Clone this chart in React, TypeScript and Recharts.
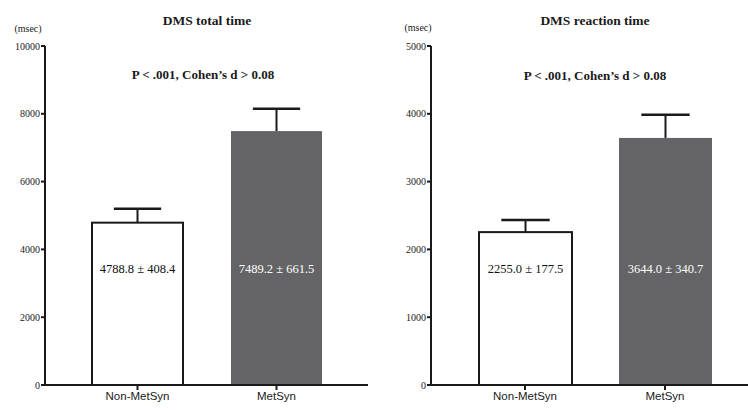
import React from "react";
import { BarChart, Bar, XAxis, YAxis } from "recharts";

const categories = ["Non-MetSyn", "MetSyn"];
const totalMeans = [4788.8, 7489.2];
const totalSds = [408.4, 661.5];
const reactionMeans = [2255.0, 3644.0];
const reactionSds = [177.5, 340.7];
const totalTicks = [0, 2000, 4000, 6000, 8000, 10000];
const reactionTicks = [0, 1000, 2000, 3000, 4000, 5000];
const barColors = ["#ffffff", "#646466"];
const labelColors = ["#111111", "#ffffff"];

const build = (means: number[], sds: number[]) =>
  categories.map((name, i) => ({
    name,
    mean: means[i],
    sd: sds[i],
    fill: barColors[i],
    labelColor: labelColors[i],
  }));

const totalData = build(totalMeans, totalSds);
const reactionData = build(reactionMeans, reactionSds);

const SERIF = "'Liberation Serif', 'Times New Roman', serif";
const SANS = "'Liberation Sans', Arial, sans-serif";
const INK = "#1a1a1a";

// bar + upward error whisker + value text
const BarWithError = (props: any) => {
  const { x, y, width, height, payload } = props;
  const perUnit = height / payload.mean;
  const errTop = y - payload.sd * perUnit;
  const cx = x + width / 2;
  const capHalf = width * 0.26;
  const isWhite = payload.fill === "#ffffff";
  return (
    <g>
      <rect
        x={x}
        y={y}
        width={width}
        height={height}
        fill={payload.fill}
        stroke={isWhite ? INK : "none"}
        strokeWidth={2}
      />
      <line x1={cx} y1={y} x2={cx} y2={errTop} stroke={INK} strokeWidth={2} />
      <line x1={cx - capHalf} y1={errTop} x2={cx + capHalf} y2={errTop} stroke={INK} strokeWidth={2.5} />
      <text
        x={cx}
        y={y + height - 115}
        textAnchor="middle"
        dominantBaseline="middle"
        fontFamily={SERIF}
        fontSize={12.5}
        fill={payload.labelColor}
      >
        {`${payload.mean.toFixed(1)} ± ${payload.sd.toFixed(1)}`}
      </text>
    </g>
  );
};

type PanelProps = {
  data: any[];
  ticks: number[];
  yWidth: number;
  padding: { left: number; right: number };
  barSize: number;
  marginRight: number;
};

const Panel = ({ data, ticks, yWidth, padding, barSize, marginRight }: PanelProps) => (
  <BarChart
    width={374}
    height={410}
    data={data}
    margin={{ top: 46, right: marginRight, bottom: 5, left: 0 }}
  >
    <XAxis
      dataKey="name"
      height={20}
      padding={padding}
      axisLine={{ stroke: INK, strokeWidth: 2 }}
      tickLine={{ stroke: INK, strokeWidth: 2 }}
      tickSize={5}
      tick={{ fontFamily: SANS, fontSize: 11.5, fill: INK }}
    />
    <YAxis
      width={yWidth}
      domain={[0, ticks[ticks.length - 1]]}
      ticks={ticks}
      interval={0}
      axisLine={{ stroke: INK, strokeWidth: 2 }}
      tickLine={{ stroke: INK, strokeWidth: 2 }}
      tickSize={4}
      tickMargin={1}
      tick={{ fontFamily: SERIF, fontSize: 10, fill: INK }}
    />
    <Bar dataKey="mean" barSize={barSize} shape={BarWithError} isAnimationActive={false} />
  </BarChart>
);

const Label = ({ cx, cy, size, bold, children }: any) => (
  <div
    style={{
      position: "absolute",
      left: cx - 150,
      top: cy - 10,
      width: 300,
      height: 20,
      lineHeight: "20px",
      textAlign: "center",
      fontFamily: SERIF,
      fontSize: size,
      fontWeight: bold ? "bold" : "normal",
      color: INK,
      whiteSpace: "nowrap",
    }}
  >
    {children}
  </div>
);

export default function App() {
  return (
    <div style={{ position: "absolute", left: 0, top: 0, width: 748, height: 410, background: "#fff" }}>
      <div style={{ position: "absolute", left: 0, top: 0 }}>
        <Panel
          data={totalData}
          ticks={totalTicks}
          yWidth={45}
          padding={{ left: 23, right: 22 }}
          barSize={91}
          marginRight={6}
        />
      </div>
      <div style={{ position: "absolute", left: 374, top: 0 }}>
        <Panel
          data={reactionData}
          ticks={reactionTicks}
          yWidth={57}
          padding={{ left: 24, right: 13 }}
          barSize={93}
          marginRight={0}
        />
      </div>
      <Label cx={207} cy={21} size={13.5} bold>DMS total time</Label>
      <Label cx={28} cy={29} size={10}>(msec)</Label>
      <Label cx={203} cy={75} size={13} bold>P &lt; .001, Cohen’s d &gt; 0.08</Label>
      <Label cx={595} cy={21} size={13.5} bold>DMS reaction time</Label>
      <Label cx={418} cy={28} size={10}>(msec)</Label>
      <Label cx={595} cy={76} size={13} bold>P &lt; .001, Cohen’s d &gt; 0.08</Label>
    </div>
  );
}
